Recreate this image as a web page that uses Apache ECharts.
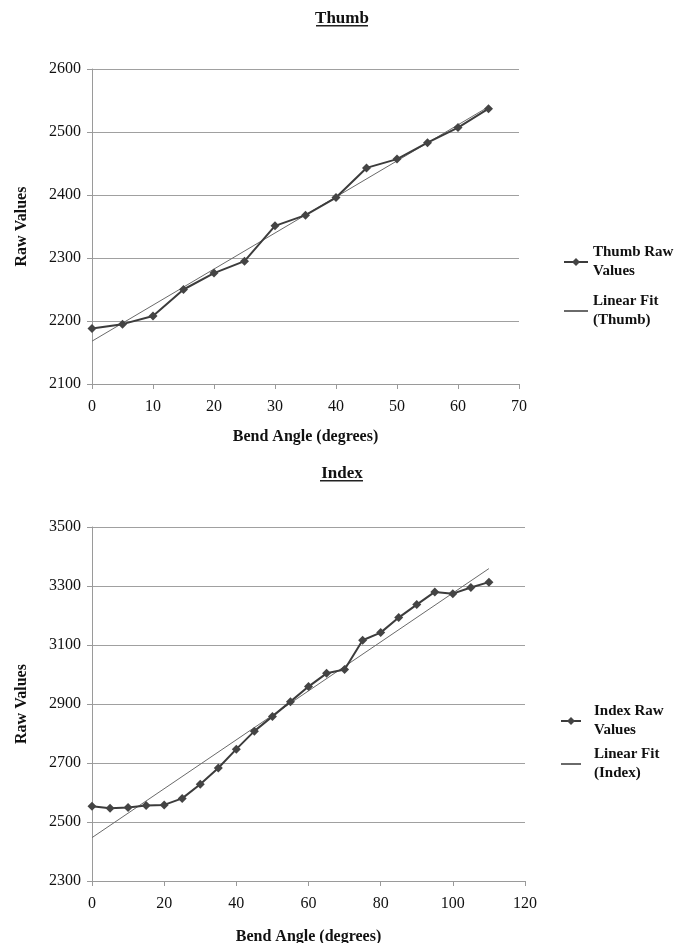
<!DOCTYPE html>
<html>
<head>
<meta charset="utf-8">
<script src="https://cdn.jsdelivr.net/npm/echarts@6/dist/echarts.min.js"></script>
<style>html,body{margin:0;padding:0;background:#fff}#c{width:684px;height:943px}</style>
</head>
<body>
<div id="c"></div>
<script>
// Thumb chart data
const thumbAngles = [0,5,10,15,20,25,30,35,40,45,50,55,60,65];
const thumbRaw = [2188,2195,2208,2250,2276,2295,2351,2368,2396,2443,2457,2483,2507,2537];
const thumbFitX = [0,65];
const thumbFitY = [2168,2540];
// Index chart data
const indexAngles = [0,5,10,15,20,25,30,35,40,45,50,55,60,65,70,75,80,85,90,95,100,105,110];
const indexRaw = [2553,2547,2549,2556,2558,2580,2628,2683,2747,2808,2858,2908,2959,3004,3017,3116,3142,3193,3237,3280,3274,3295,3313];
const indexFitX = [0,110];
const indexFitY = [2447,3359];

const titles = ['Thumb','Index'];
const xName = 'Bend Angle (degrees)';
const yName = 'Raw Values';

const FONT = 'Liberation Serif';
const zip = (xs, ys) => xs.map((x,i)=>[x, ys[i]]);

const chart = echarts.init(document.getElementById('c'));
const axisLabelStyle = {color:'#111', fontFamily:FONT, fontSize:16};
const nameStyle = {color:'#111', fontFamily:FONT, fontSize:16, fontWeight:'bold'};
const lineGray = {color:'#9a9a9a', width:1};

function xAx(idx, max, interval, gap){
  return {gridIndex:idx, type:'value', min:0, max:max, interval:interval,
    name:xName, nameLocation:'middle', nameGap:gap, nameTextStyle:nameStyle,
    axisLine:{show:true, lineStyle:lineGray}, axisTick:{show:true, length:5, lineStyle:lineGray},
    axisLabel:Object.assign({margin:15, formatter:v=>String(v)}, axisLabelStyle), splitLine:{show:false}};
}
function yAx(idx, min, max, interval){
  return {gridIndex:idx, type:'value', min:min, max:max, interval:interval,
    name:yName, nameLocation:'middle', nameGap:62, nameRotate:90, nameTextStyle:nameStyle,
    axisLine:{show:true, lineStyle:lineGray}, axisTick:{show:true, length:5, lineStyle:lineGray},
    axisLabel:Object.assign({margin:11, formatter:v=>String(v)}, axisLabelStyle), splitLine:{show:true, lineStyle:{color:'#a0a0a0', width:1}}};
}
const rawLine = {color:'#3c3c3c', width:2};
const fitLine = {color:'#6a6a6a', width:1};
const legendNames = {
  'Thumb Raw Values':'Thumb Raw\nValues',
  'Linear Fit (Thumb)':'Linear Fit\n(Thumb)',
  'Index Raw Values':'Index Raw\nValues',
  'Linear Fit (Index)':'Linear Fit\n(Index)'
};
function legend(top, left, w, gap, pad, names){
  return {orient:'vertical', left:left, top:top, padding:0, itemWidth:w, itemHeight:10, itemGap:gap,
    data:[{name:names[0]}, {name:names[1], itemStyle:{opacity:0}}], formatter:n=>legendNames[n],
    textStyle:{fontFamily:FONT, fontSize:15, fontWeight:'bold', color:'#111', lineHeight:19, padding:[0,0,0,pad]}};
}

chart.setOption({
  animation:false,
  backgroundColor:'#fff',
  title:[
    {text:titles[0], left:'center', top:5, textStyle:{fontFamily:FONT, fontSize:17, fontWeight:'bold', color:'#111'}},
    {text:titles[1], left:'center', top:460, textStyle:{fontFamily:FONT, fontSize:17, fontWeight:'bold', color:'#111'}}
  ],
  graphic:[
    {type:'rect', shape:{x:316, y:25, width:52, height:1.5}, style:{fill:'#222'}},
    {type:'rect', shape:{x:320, y:480, width:43, height:1.5}, style:{fill:'#222'}}
  ],
  legend:[
    legend(243, 563, 24, 11, 0, ['Thumb Raw Values','Linear Fit (Thumb)']),
    legend(702, 560, 20, 5, 8, ['Index Raw Values','Linear Fit (Index)'])
  ],
  grid:[
    {left:92, top:69, width:427, height:315, outerBoundsMode:'none'},
    {left:92, top:527, width:433, height:354, outerBoundsMode:'none'}
  ],
  xAxis:[xAx(0,70,10,45), xAx(1,120,20,48)],
  yAxis:[yAx(0,2100,2600,100), yAx(1,2300,3500,200)],
  series:[
    {name:'Thumb Raw Values', type:'line', xAxisIndex:0, yAxisIndex:0, data:zip(thumbAngles, thumbRaw),
      symbol:'diamond', symbolSize:9, lineStyle:rawLine, itemStyle:{color:'#444'}, z:3},
    {name:'Linear Fit (Thumb)', type:'line', xAxisIndex:0, yAxisIndex:0, data:zip(thumbFitX, thumbFitY),
      symbol:'none', lineStyle:fitLine, itemStyle:{color:'#6a6a6a'}, z:2},
    {name:'Index Raw Values', type:'line', xAxisIndex:1, yAxisIndex:1, data:zip(indexAngles, indexRaw),
      symbol:'diamond', symbolSize:9, lineStyle:rawLine, itemStyle:{color:'#444'}, z:3},
    {name:'Linear Fit (Index)', type:'line', xAxisIndex:1, yAxisIndex:1, data:zip(indexFitX, indexFitY),
      symbol:'none', lineStyle:fitLine, itemStyle:{color:'#6a6a6a'}, z:2}
  ]
});
</script>
</body>
</html>
